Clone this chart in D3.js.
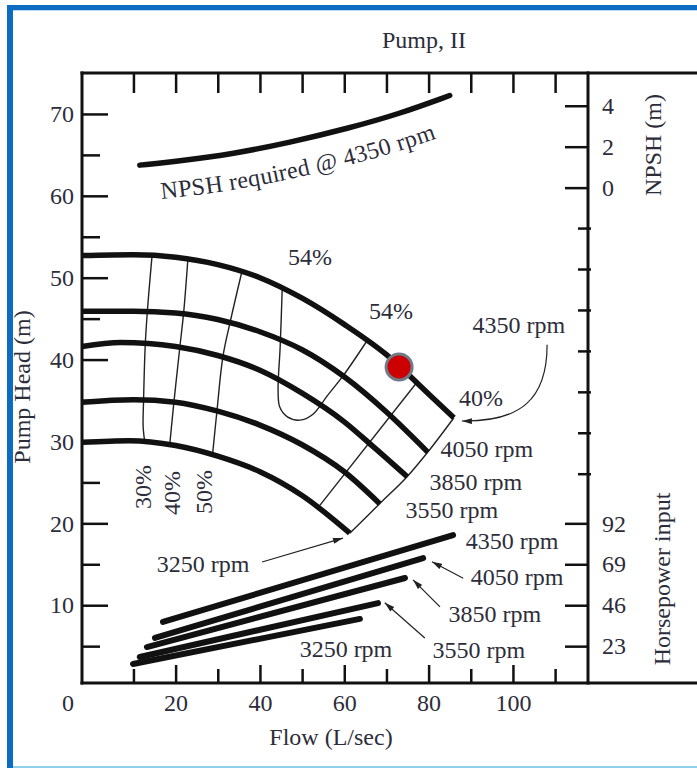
<!DOCTYPE html>
<html>
<head>
<meta charset="utf-8">
<script src="https://cdn.jsdelivr.net/npm/d3@7"></script>
<style>
  html, body { margin: 0; padding: 0; background: #fff; }
  svg text { font-family: "Liberation Serif", "Times New Roman", serif; fill: #2d2d3a; }
</style>
</head>
<body>
<script>
// page and plot frame
var w = 697, h = 770;
var padLeft = 82, padRight = 588, padTop = 73, padBottom = 683;

// tick values
var flowTicks = [20, 40, 60, 80, 100];
var flowMinor = [10, 30, 50, 70, 90, 110];
var headTicks = [10, 20, 30, 40, 50, 60, 70];
var headMinor = [5, 15, 25, 35, 45, 55, 65];
var npshTicks = [0, 2, 4];
var hpTicks = [23, 46, 69, 92];
var rightMinor = [26, 31, 36, 41, 46, 51, 56];

// pump head curves [flow L/s, head m]
var head4350 = [[-2.2, 52.7], [10, 52.8], [20, 52.5], [30, 51.6], [40, 50.0], [50, 47.5], [60, 44.3], [70, 40.6], [80, 35.8], [86, 32.9]];
var head4050 = [[-2.2, 45.9], [10, 45.9], [20, 45.7], [30, 44.9], [40, 43.4], [50, 41.2], [60, 37.9], [70, 33.6], [79.8, 28.7]];
var head3850 = [[-2.2, 41.6], [7, 42.1], [20, 41.6], [30, 40.5], [40, 38.7], [50, 35.9], [60, 32.4], [67, 29.3], [74.9, 25.7]];
var head3550 = [[-2.2, 34.8], [10, 35.1], [20, 34.8], [30, 33.7], [40, 32.0], [50, 29.6], [60, 26.3], [68.4, 22.4]];
var head3250 = [[-2.2, 29.9], [9, 30.1], [20, 29.5], [30, 28.2], [40, 26.3], [50, 23.4], [61.3, 18.8]];

// efficiency lines [flow, head]
var eff30 = [[14.4, 52.6], [13.3, 45.9], [12.8, 41.8], [12.4, 35.0], [12.3, 31.8], [12.7, 29.9]];
var eff40 = [[22.9, 52.2], [21.9, 45.7], [21.0, 41.5], [19.6, 34.8], [18.6, 29.6]];
var eff50 = [[35.7, 50.7], [32.9, 44.5], [31.2, 40.3], [29.8, 33.7], [28.8, 28.6]];
var eff54 = [[45.3, 48.9], [44.8, 41.6], [44.3, 36.3], [44.7, 34.2], [46.5, 33.0], [49.5, 32.6], [52.5, 33.3], [56, 35.6], [59.7, 38.0], [65.4, 42.3]];
var eff50b = [[77.2, 37.2], [54.2, 22.2]];
var eff40b = [[86, 32.9], [79.8, 28.7], [74.9, 25.7], [68.4, 22.4], [61.3, 18.8]];

// horsepower lines [flow, hp]
var hp4350 = [[17.0, 36.6], [85.8, 85.4]];
var hp4050 = [[15.1, 27.6], [78.7, 72.5]];
var hp3850 = [[13.2, 22.5], [74.4, 61.3]];
var hp3550 = [[11.5, 16.9], [68.0, 47.2]];
var hp3250 = [[9.9, 13.0], [63.7, 38.3]];

// NPSH required @ 4350 rpm [flow, NPSH m]
var npsh4350 = [[11.5, 1.1], [21, 1.3], [33.6, 1.65], [47, 2.2], [61, 2.9], [73, 3.6], [85, 4.5]];

// operating point [flow, head]
var opPoint = [73, 39.1];

// text labels [text, flow, head]
var labels = [
  ["54%", 51.9, 51.6], ["54%", 71.1, 44.9], ["4350 rpm", 101.4, 43.3], ["40%", 92.4, 34.3],
  ["4050 rpm", 93.8, 28.1], ["3850 rpm", 91.2, 24.1], ["3550 rpm", 85.5, 20.7], ["3250 rpm", 26.5, 14.0],
  ["4350 rpm", 99.8, 16.9], ["4050 rpm", 101, 12.5], ["3850 rpm", 95.7, 7.95], ["3550 rpm", 91.9, 3.55],
  ["3250 rpm", 60.4, 3.67]
];
var effLabels = [["30%", 12.26, 24.44], ["40%", 19.14, 23.71], ["50%", 26.73, 23.83]];

// straight arrows [from flow, from head, to flow, to head]
var arrows = [[40.5, 15.28, 59.7, 18.2], [88.2, 13.3, 80.8, 15.3], [82.7, 9.8, 76.3, 13.1], [79.1, 6.0, 69.6, 10.3]];
// curved arrow for 4350 rpm: start, control 1, control 2, end
var curvedArrow = [[108.1, 41.8], [108.1, 35.06], [101.7, 32.4], [87.9, 32.5]];

// scales
var xScale = d3.scaleLinear().domain([-2.2, 117.8]).range([padLeft, padRight]);
var yScale = d3.scaleLinear().domain([0.5, 75]).range([padBottom, padTop]);
var npshScale = d3.scaleLinear().domain([0, 4]).range([yScale(61), yScale(71)]);
var hpScale = d3.scaleLinear().domain([0, 92]).range([yScale(0), yScale(20)]);

var svg = d3.select("body").append("svg")
  .attr("width", w)
  .attr("height", h);

svg.append("rect").attr("width", w).attr("height", h).attr("fill", "#fff");

// blue frame around the picture
svg.append("rect").attr("x", 7).attr("y", 5).attr("width", 6).attr("height", 763).attr("fill", "#0b6cc1");
svg.append("rect").attr("x", 7).attr("y", 5).attr("width", w - 7).attr("height", 5).attr("fill", "#0b6cc1");
svg.append("rect").attr("x", 13).attr("y", 10).attr("width", w - 13).attr("height", 1).attr("fill", "#b9dcf2");
svg.append("rect").attr("x", 13).attr("y", 766).attr("width", w - 13).attr("height", 2).attr("fill", "#8fd0ea");

var defs = svg.append("defs");
defs.append("marker")
  .attr("id", "arrow")
  .attr("viewBox", "0 0 10 6")
  .attr("refX", 10)
  .attr("refY", 3)
  .attr("markerWidth", 11)
  .attr("markerHeight", 6)
  .attr("markerUnits", "userSpaceOnUse")
  .attr("orient", "auto")
  .append("path")
  .attr("d", "M0,0 L10,3 L0,6 Z")
  .attr("fill", "#222");

// axes (ticks inside the frame)
function styleAxis(g) {
  g.select(".domain").remove();
  g.selectAll(".tick line").attr("stroke", "#111").attr("stroke-width", 2.5);
  g.selectAll(".tick text").attr("font-size", "24px").attr("font-family", "Liberation Serif, serif").attr("fill", "#2d2d3a");
}

svg.append("g")
  .attr("transform", "translate(" + padLeft + ",0)")
  .call(d3.axisLeft(yScale).tickValues(headTicks).tickSizeInner(-26).tickSizeOuter(0).tickPadding(8))
  .call(styleAxis);

svg.append("g")
  .attr("transform", "translate(" + padLeft + ",0)")
  .call(d3.axisLeft(yScale).tickValues(headMinor).tickSizeInner(-18).tickSizeOuter(0).tickFormat(""))
  .call(styleAxis);

svg.append("g")
  .attr("transform", "translate(0," + padBottom + ")")
  .call(d3.axisBottom(xScale).tickValues(flowTicks).tickSizeInner(-18).tickSizeOuter(0).tickPadding(11))
  .call(styleAxis);

svg.append("g")
  .attr("transform", "translate(0," + padBottom + ")")
  .call(d3.axisBottom(xScale).tickValues(flowMinor).tickSizeInner(-14).tickSizeOuter(0).tickFormat(""))
  .call(styleAxis);

svg.append("g")
  .attr("transform", "translate(0," + padTop + ")")
  .call(d3.axisTop(xScale).tickValues(flowMinor.concat(flowTicks)).tickSizeInner(-20).tickSizeOuter(0).tickFormat(""))
  .call(styleAxis);

svg.append("g")
  .attr("transform", "translate(" + padRight + ",0)")
  .call(d3.axisRight(npshScale).tickValues(npshTicks).tickFormat(d3.format("d")).tickSizeInner(-23).tickSizeOuter(0).tickPadding(14))
  .call(styleAxis);

svg.append("g")
  .attr("transform", "translate(" + padRight + ",0)")
  .call(d3.axisRight(hpScale).tickValues(hpTicks).tickFormat(d3.format("d")).tickSizeInner(-23).tickSizeOuter(0).tickPadding(14))
  .call(styleAxis);

svg.selectAll(".rminor")
  .data(rightMinor)
  .enter()
  .append("line")
  .attr("x1", padRight - 10)
  .attr("x2", padRight + 3)
  .attr("y1", function(d) { return yScale(d); })
  .attr("y2", function(d) { return yScale(d); })
  .attr("stroke", "#111")
  .attr("stroke-width", 2.5);

// corner zero
svg.append("text")
  .attr("x", padLeft - 14)
  .attr("y", padBottom + 28)
  .attr("text-anchor", "middle")
  .attr("font-size", "24px")
  .text("0");

// frame lines
var frame = [
  [padLeft, padTop, padLeft, padBottom],
  [padLeft, padTop, w, padTop],
  [padRight, padTop, padRight, padBottom],
  [padLeft, padBottom, w, padBottom]
];
svg.selectAll(".frame")
  .data(frame)
  .enter()
  .append("line")
  .attr("x1", function(d) { return d[0]; })
  .attr("y1", function(d) { return d[1]; })
  .attr("x2", function(d) { return d[2]; })
  .attr("y2", function(d) { return d[3]; })
  .attr("stroke", "#111")
  .attr("stroke-width", 3)
  .attr("stroke-linecap", "square");

// line generators
var headLine = d3.line()
  .x(function(d) { return xScale(d[0]); })
  .y(function(d) { return yScale(d[1]); })
  .curve(d3.curveMonotoneX);

var effLine = d3.line()
  .x(function(d) { return xScale(d[0]); })
  .y(function(d) { return yScale(d[1]); })
  .curve(d3.curveCatmullRom);

var hpLine = d3.line()
  .x(function(d) { return xScale(d[0]); })
  .y(function(d) { return hpScale(d[1]); });

var npshLine = d3.line()
  .x(function(d) { return xScale(d[0]); })
  .y(function(d) { return npshScale(d[1]); })
  .curve(d3.curveBasis);

// efficiency lines (thin)
svg.selectAll(".eff")
  .data([eff30, eff40, eff50, eff54, eff50b, eff40b])
  .enter()
  .append("path")
  .attr("d", effLine)
  .attr("fill", "none")
  .attr("stroke", "#222")
  .attr("stroke-width", 1.4);

// head curves (thick)
svg.selectAll(".head")
  .data([head4350, head4050, head3850, head3550, head3250])
  .enter()
  .append("path")
  .attr("d", headLine)
  .attr("fill", "none")
  .attr("stroke", "#111")
  .attr("stroke-width", 5.5);

// horsepower lines
svg.selectAll(".hp")
  .data([hp4350, hp4050, hp3850, hp3550, hp3250])
  .enter()
  .append("path")
  .attr("d", hpLine)
  .attr("fill", "none")
  .attr("stroke", "#111")
  .attr("stroke-width", 6)
  .attr("stroke-linecap", "round");

// NPSH curve and its label along it
svg.append("path")
  .attr("id", "npshPath")
  .attr("d", npshLine(npsh4350))
  .attr("fill", "none")
  .attr("stroke", "#111")
  .attr("stroke-width", 5.5)
  .attr("stroke-linecap", "round");

svg.append("text")
  .attr("font-size", "24px")
  .attr("dy", 36)
  .append("textPath")
  .attr("href", "#npshPath")
  .attr("startOffset", 18)
  .text("NPSH required @ 4350 rpm");

// operating point
svg.append("circle")
  .attr("cx", xScale(opPoint[0]))
  .attr("cy", yScale(opPoint[1]))
  .attr("r", 13)
  .attr("fill", "#cc0000")
  .attr("stroke", "#6f7b86")
  .attr("stroke-width", 3);

// arrows
svg.selectAll(".arrow")
  .data(arrows)
  .enter()
  .append("line")
  .attr("x1", function(d) { return xScale(d[0]); })
  .attr("y1", function(d) { return yScale(d[1]); })
  .attr("x2", function(d) { return xScale(d[2]); })
  .attr("y2", function(d) { return yScale(d[3]); })
  .attr("stroke", "#222")
  .attr("stroke-width", 1.2)
  .attr("marker-end", "url(#arrow)");

var p = d3.path();
p.moveTo(xScale(curvedArrow[0][0]), yScale(curvedArrow[0][1]));
p.bezierCurveTo(xScale(curvedArrow[1][0]), yScale(curvedArrow[1][1]),
                xScale(curvedArrow[2][0]), yScale(curvedArrow[2][1]),
                xScale(curvedArrow[3][0]), yScale(curvedArrow[3][1]));
svg.append("path")
  .attr("d", p.toString())
  .attr("fill", "none")
  .attr("stroke", "#222")
  .attr("stroke-width", 1.2)
  .attr("marker-end", "url(#arrow)");

// labels
svg.selectAll(".lbl")
  .data(labels)
  .enter()
  .append("text")
  .attr("x", function(d) { return xScale(d[1]); })
  .attr("y", function(d) { return yScale(d[2]); })
  .attr("text-anchor", "middle")
  .attr("font-size", "24px")
  .text(function(d) { return d[0]; });

svg.selectAll(".effl")
  .data(effLabels)
  .enter()
  .append("text")
  .attr("transform", function(d) { return "translate(" + xScale(d[1]) + "," + yScale(d[2]) + ") rotate(-90)"; })
  .attr("text-anchor", "middle")
  .attr("dy", "0.32em")
  .attr("font-size", "24px")
  .text(function(d) { return d[0]; });

// titles
svg.append("text")
  .attr("x", 424)
  .attr("y", 48)
  .attr("text-anchor", "middle")
  .attr("font-size", "24px")
  .text("Pump, II");

svg.append("text")
  .attr("x", (padLeft + padRight) / 2 - 4)
  .attr("y", 745)
  .attr("text-anchor", "middle")
  .attr("font-size", "24px")
  .text("Flow (L/sec)");

svg.append("text")
  .attr("transform", "translate(30,387) rotate(-90)")
  .attr("text-anchor", "middle")
  .attr("font-size", "24px")
  .text("Pump Head (m)");

svg.append("text")
  .attr("transform", "translate(661,145) rotate(-90)")
  .attr("text-anchor", "middle")
  .attr("font-size", "24px")
  .text("NPSH (m)");

svg.append("text")
  .attr("transform", "translate(670,579) rotate(-90)")
  .attr("text-anchor", "middle")
  .attr("font-size", "24px")
  .text("Horsepower input");
</script>
</body>
</html>
